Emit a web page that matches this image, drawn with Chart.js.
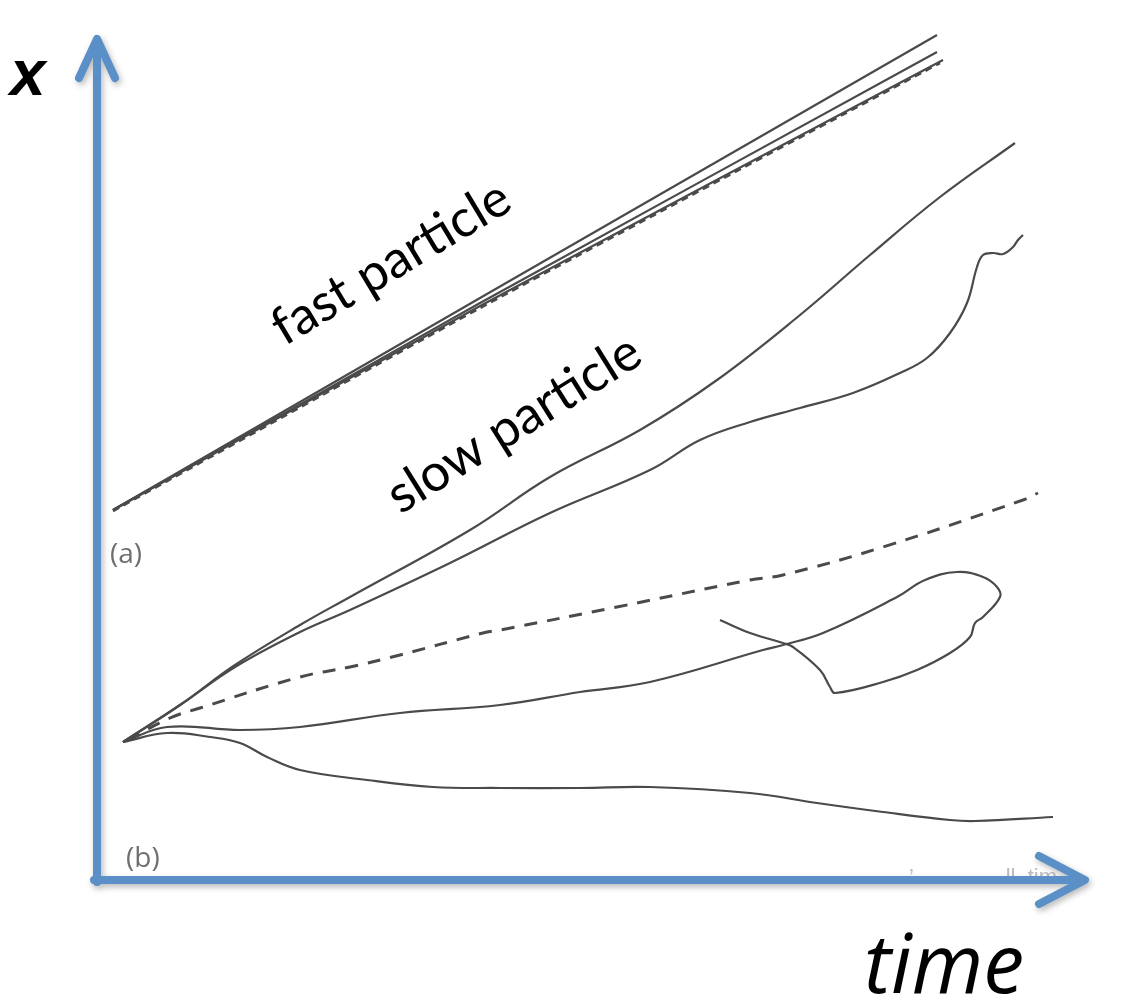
<!DOCTYPE html>
<html>
<head>
<meta charset="utf-8">
<script src="https://cdn.jsdelivr.net/npm/chart.js@4/dist/chart.umd.min.js"></script>
<style>
  html, body { margin: 0; padding: 0; background: #ffffff; }
  #wrap { width: 1142px; height: 1008px; position: relative; }
</style>
</head>
<body>
<div id="wrap"><canvas id="c" width="1142" height="1008"></canvas></div>
<script>
// Particle trajectories: position x against time (arbitrary units).
// Panel (a): fast particle bundle
const fastTime   = [1.8, 38.5, 84.2];
const fastA      = [37.0, 58.2, 84.5];
const fastB      = [37.0, 57.7, 82.8];
const fastCTime  = [1.8, 38.5, 84.8];
const fastC      = [37.0, 57.4, 82.0];
const fastDTime  = [1.8, 38.5, 84.5];
const fastDashed = [36.9, 57.2, 81.7];

// Panel (b): slow particle trajectories
const slow1Time = [2.8, 8.5, 14.0, 20.5, 25.5, 37.5, 45.5, 54.5, 62.2, 70.5, 77.5, 84.5, 92.0];
const slow1     = [13.8, 17.5, 21.5, 25.5, 28.3, 35.0, 40.3, 45.0, 50.0, 56.5, 62.5, 68.3, 73.7];

const slow2Time = [2.8, 8.5, 14.0, 20.5, 25.5, 35.5, 45.5, 55.5, 60.5, 65.5, 70.5, 75.8, 80.5, 83.2, 85.5, 87.2, 88.2, 88.8, 89.8, 90.8, 91.8, 92.3, 92.8];
const slow2     = [13.8, 17.5, 21.3, 24.8, 27.0, 31.7, 36.7, 41.0, 44.0, 45.8, 47.2, 48.7, 50.7, 52.2, 54.7, 57.7, 61.3, 62.5, 62.7, 62.6, 63.3, 64.0, 64.5];

const meanTime = [3.3, 7.5, 10.5, 20.5, 25.5, 30.5, 38.8, 40.5, 52.2, 65.5, 68.8, 78.8, 92.8, 94.3];
const meanPath = [14.0, 16.2, 17.2, 20.3, 21.3, 22.5, 24.7, 25.0, 27.3, 30.0, 30.5, 33.3, 38.0, 38.7];

const loopTime = [2.8, 7.2, 14.5, 20.5, 30.5, 40.5, 48.5, 55.5, 66.8, 68.8, 72.8, 80.2, 83.0, 86.2, 88.8, 90.2, 90.5, 88.8, 88.0, 87.5, 85.5, 82.2, 78.8, 74.0, 73.5, 72.5, 69.8, 68.8, 65.5, 62.5];
const loopPath = [13.8, 15.3, 15.0, 15.3, 16.7, 17.5, 18.8, 19.8, 23.0, 23.5, 24.7, 28.3, 30.0, 30.8, 30.3, 29.3, 28.3, 26.3, 25.7, 24.3, 22.7, 21.0, 19.8, 18.7, 19.3, 21.0, 23.3, 23.7, 24.7, 26.0];

const lowTime = [2.8, 7.2, 11.5, 14.5, 17.2, 20.5, 27.2, 33.8, 40.5, 48.5, 55.5, 65.5, 72.2, 78.8, 85.5, 88.0, 95.8];
const lowPath = [13.8, 14.7, 14.3, 13.7, 12.3, 11.0, 10.0, 9.3, 9.2, 9.2, 9.3, 8.7, 7.7, 6.8, 6.0, 5.9, 6.3];

// Axis extents (data units)
const timeRange = [-9.5, 104.7];
const xRange = [-12.8, 88.0];
const axisTipTime = 99.0;
const axisTipX = 84.1;

const zip = (ts, xs) => ts.map((t, i) => ({ x: t, y: xs[i] }));
const ink = '#4a4a4a';

function trace(ts, xs, extra) {
  return Object.assign({
    data: zip(ts, xs),
    showLine: true,
    borderColor: ink,
    borderWidth: 2.2,
    pointRadius: 0,
    tension: 0.4,
    fill: false
  }, extra || {});
}

// Blue arrow axes plus annotation text
const sketchAxes = {
  id: 'sketchAxes',
  afterDatasetsDraw(chart) {
    const ctx = chart.ctx;
    const sx = chart.scales.x, sy = chart.scales.y;
    const ox = sx.getPixelForValue(0.2), oy = sy.getPixelForValue(0);
    const tipY = sy.getPixelForValue(axisTipX);
    const tipX = sx.getPixelForValue(axisTipTime);

    // faint caption partly hidden under the time axis
    ctx.save();
    ctx.fillStyle = 'rgba(120,120,120,0.5)';
    ctx.font = '22px "Liberation Sans", sans-serif';
    ctx.textAlign = 'right';
    ctx.fillText('\u2019   .     .     ll  tim', tipX - 28, oy + 4);
    ctx.restore();

    ctx.save();
    ctx.strokeStyle = '#5b8fc8';
    ctx.lineWidth = 8;
    ctx.lineCap = 'round';
    ctx.lineJoin = 'round';
    ctx.shadowColor = 'rgba(0,0,0,0.28)';
    ctx.shadowBlur = 6;
    ctx.shadowOffsetX = 2;
    ctx.shadowOffsetY = 3;
    ctx.beginPath();
    ctx.moveTo(ox, oy + 2);
    ctx.lineTo(ox, tipY + 4);
    ctx.moveTo(ox - 18, tipY + 39);
    ctx.lineTo(ox, tipY);
    ctx.lineTo(ox + 18, tipY + 39);
    ctx.moveTo(ox - 3, oy);
    ctx.lineTo(tipX - 4, oy);
    ctx.moveTo(tipX - 46, oy - 24);
    ctx.lineTo(tipX, oy);
    ctx.lineTo(tipX - 46, oy + 24);
    ctx.stroke();
    ctx.restore();

    ctx.save();
    ctx.fillStyle = '#000';
    ctx.font = 'italic bold 64px "Liberation Sans", sans-serif';
    ctx.textBaseline = 'alphabetic';
    ctx.fillText('x', 10, 95);
    ctx.font = 'italic 82px "Open Sans", sans-serif';
    ctx.fillText('time', 864, 993);

    ctx.font = '52px Lato, "Open Sans", sans-serif';
    ctx.textAlign = 'center';
    ctx.textBaseline = 'middle';
    ctx.save();
    ctx.translate(391, 263);
    ctx.rotate(-31 * Math.PI / 180);
    ctx.fillText('fast particle', 0, 0);
    ctx.restore();
    ctx.save();
    ctx.translate(514, 424);
    ctx.rotate(-32 * Math.PI / 180);
    ctx.fillText('slow particle', 0, 0);
    ctx.restore();

    ctx.fillStyle = '#6f6f6f';
    ctx.font = '28px "Open Sans", sans-serif';
    ctx.textAlign = 'left';
    ctx.textBaseline = 'alphabetic';
    ctx.fillText('(a)', 110, 563);
    ctx.fillText('(b)', 126, 867);
    ctx.restore();
  }
};

new Chart(document.getElementById('c'), {
  type: 'scatter',
  data: {
    datasets: [
      trace(fastTime, fastA, { tension: 0.15 }),
      trace(fastTime, fastB, { tension: 0.15 }),
      trace(fastCTime, fastC, { tension: 0.15 }),
      trace(fastDTime, fastDashed, { tension: 0.15, borderDash: [7, 5], borderWidth: 2.6 }),
      trace(slow1Time, slow1),
      trace(slow2Time, slow2),
      trace(meanTime, meanPath, { borderDash: [13, 10], borderWidth: 3 }),
      trace(loopTime, loopPath),
      trace(lowTime, lowPath)
    ]
  },
  options: {
    responsive: false,
    animation: false,
    devicePixelRatio: 1,
    layout: { padding: 0 },
    plugins: { legend: { display: false }, tooltip: { enabled: false } },
    scales: {
      x: { type: 'linear', display: false, min: timeRange[0], max: timeRange[1] },
      y: { type: 'linear', display: false, min: xRange[0], max: xRange[1] }
    }
  },
  plugins: [sketchAxes]
});
</script>
</body>
</html>
